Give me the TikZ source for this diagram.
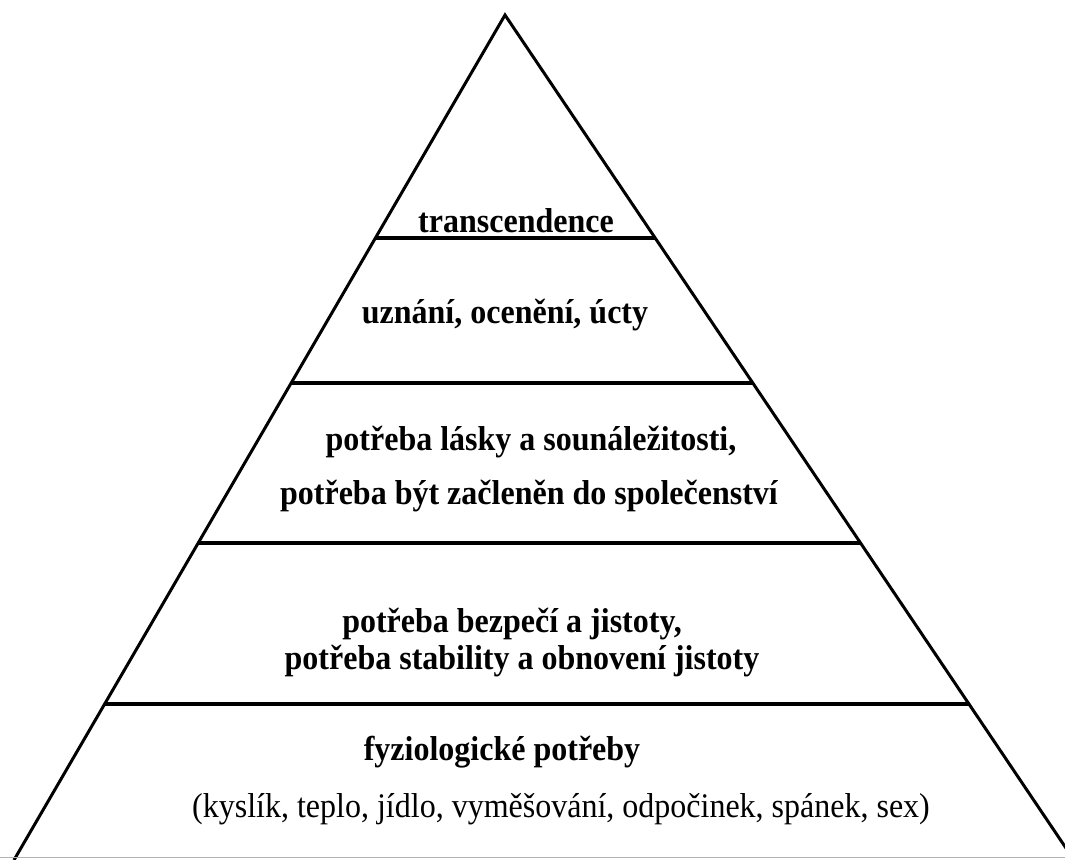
\documentclass[tikz,border=0pt]{standalone}
\usepackage{fontspec}
\setmainfont{Liberation Serif}
\usetikzlibrary{calc}
\newcommand{\stretchtext}[1]{\scalebox{1}[1.08]{#1}}
\begin{document}
\begin{tikzpicture}[x=1pt,y=-1pt,
    need/.style={font=\fontsize{32}{38}\selectfont\bfseries, anchor=base, inner sep=0pt},
    detail/.style={font=\fontsize{32}{38}\selectfont, anchor=base, inner sep=0pt}]
    \useasboundingbox (0,0) rectangle (1065,859);
    \clip (0,0) rectangle (1065,859);
    \coordinate (top) at (505,15);
    \coordinate (bl) at (14,860);
    \coordinate (br) at (1074,860);
    \draw [line width=3pt, line join=miter] (bl) -- (top) -- (br);
    \foreach \t in {0.264,0.4355,0.6249,0.8154}
      \draw [line width=3.2pt] ($(top)!\t!(bl)$) -- ($(top)!\t!(br)$);
    \draw [black!30, line width=1pt] (0,857) -- (1065,857);
    \node[need] (trans) at (516,232) {\stretchtext{transcendence}};
    \node[need] (uznani) at (505,323) {\stretchtext{uznání, ocenění, úcty}};
    \node[need] (laska) at (531,450) {\stretchtext{potřeba lásky a sounáležitosti,}};
    \node[need] (spolec) at (529,504) {\stretchtext{potřeba být začleněn do společenství}};
    \node[need] (bezpeci) at (512,632) {\stretchtext{potřeba bezpečí a jistoty,}};
    \node[need] (stabil) at (522,669) {\stretchtext{potřeba stability a obnovení jistoty}};
    \node[need] (fyzio) at (502,760) {\stretchtext{fyziologické potřeby}};
    \node[detail] (seznam) at (561,817) {\stretchtext{(kyslík, teplo, jídlo, vyměšování, odpočinek, spánek, sex)}};
\end{tikzpicture}
\end{document}
